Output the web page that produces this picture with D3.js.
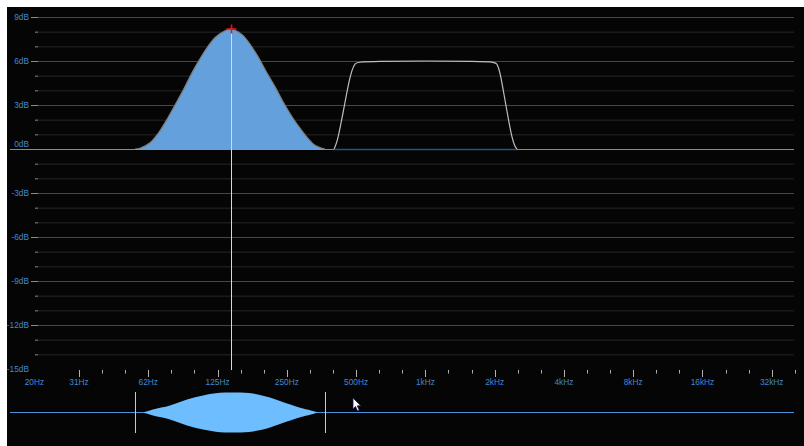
<!DOCTYPE html>
<html><head><meta charset="utf-8">
<script src="https://cdn.jsdelivr.net/npm/d3@7"></script>
<style>html,body{margin:0;padding:0;background:#fff;}svg{display:block}</style>
</head><body>
<svg id="c" width="804" height="446"></svg>
<script>
// ---- data ----
const freqLabels = ["20Hz","31Hz","62Hz","125Hz","250Hz","500Hz","1kHz","2kHz","4kHz","8kHz","16kHz","32kHz"];
const freqLabelValues = [20,31.25,62.5,125,250,500,1000,2000,4000,8000,16000,32000];
const dbLabels = ["9dB","6dB","3dB","0dB","-3dB","-6dB","-9dB","-12dB","-15dB"];
const dbLabelValues = [9,6,3,0,-3,-6,-9,-12,-15];

// peaking band (filled)
const bellFreq = [54.7,57.5,63.6,68.9,74.6,81.7,89.4,96.8,104.9,113.6,123.1,134.7,143.0,159.7,172.9,187.4,203.0,222.1,240.7,263.4,285.2,309.1,331.5,355.6,366.4];
const bellGain = [0,0.05,0.42,1.05,1.9,3.0,4.12,5.2,6.15,7.0,7.65,8.06,8.18,7.8,7.15,6.3,5.3,4.25,3.22,2.2,1.42,0.72,0.25,0.05,0];

// second band (outline only)
const bandFreq = [401.1,413.1,425.7,438.7,452.0,465.8,479.9,494.6,514.8,1988,2048,2111,2175,2241,2310,2380,2452,2502];
const bandGain = [0,0.45,1.4,2.45,3.55,4.6,5.4,5.85,6.0,6.0,5.85,5.25,4.1,2.95,1.8,0.75,0.15,0];

// lower overview panel envelope
const lensFreq = [59.3,65.5,77.7,92.1,108.1,128.1,151.9,178.3,211.3,250.5,294,324.9,341.6];
const lensAmp  = [0,0.15,0.35,0.65,0.85,0.985,1,0.95,0.75,0.45,0.2,0.075,0];

const peakFreq = 143.0, peakGain = 8.18;
const cursorFreq = 485;

// ---- drawing ----
const svg = d3.select("#c");
svg.append("rect").attr("x",7).attr("y",7).attr("width",797).attr("height",439).attr("fill","#050505");

const x = d3.scaleLog().base(2).domain([20,40000]).range([34.4,794]);
const y = d3.scaleLinear().domain([-15,9]).range([369,17]);
const font = "'Liberation Sans', Arial, sans-serif";
const labelColor = "#4189d0";
const smooth = d3.curveCatmullRom.alpha(0.5);

// horizontal grid (every dB)
const gridVals = d3.range(-14,10);
const g = svg.append("g");
gridVals.forEach(v=>{
  if (v===0) return;
  const major = v%3===0;
  g.append("line").attr("x1",38).attr("x2",794).attr("y1",y(v)+0.5).attr("y2",y(v)+0.5)
    .attr("stroke", major ? "#474747" : "#262626").attr("stroke-width",1);
  g.append("line").attr("x1", major?31:35).attr("x2",38).attr("y1",y(v)+0.5).attr("y2",y(v)+0.5)
    .attr("stroke","#8a8a8a").attr("stroke-width",1);
});

// y labels
svg.append("g").selectAll("text").data(dbLabelValues).join("text")
  .attr("x",29).attr("y",(d)=>y(d) + (d===0 ? -2 : 3))
  .attr("text-anchor","end").attr("font-family",font).attr("font-size",8.3)
  .attr("fill",labelColor).text((d,i)=>dbLabels[i]);

// x ticks (third-octave)
const thirdTicks = d3.range(0,32).map(k=>31.25*Math.pow(2,k/3));
svg.append("g").selectAll("line").data(thirdTicks.map((f,k)=>({f,k}))).join("line")
  .attr("x1",d=>Math.round(x(d.f))+0.5).attr("x2",d=>Math.round(x(d.f))+0.5)
  .attr("y1",370).attr("y2",d=>d.k%3===0?377:373.5)
  .attr("stroke","#b0b0b0").attr("stroke-width",1);

svg.append("g").selectAll("text").data(freqLabelValues).join("text")
  .attr("x",d=>x(d)).attr("y",385).attr("text-anchor","middle")
  .attr("font-family",font).attr("font-size",8.3).attr("fill",labelColor)
  .text((d,i)=>freqLabels[i]);

// 0 dB response baseline
svg.append("line").attr("x1",10).attr("x2",794).attr("y1",y(0)+0.5).attr("y2",y(0)+0.5)
  .attr("stroke","#8c8c8c").attr("stroke-width",1);

// bell filled band
const bellData = bellFreq.map((f,i)=>({f,g:bellGain[i]}));
svg.append("path").datum(bellData)
  .attr("d", d3.area().x(d=>x(d.f)).y0(y(0)+1).y1(d=>y(d.g)).curve(smooth))
  .attr("fill","#64a1dc");
svg.append("path").datum(bellData)
  .attr("d", d3.line().x(d=>x(d.f)).y(d=>y(d.g)).curve(smooth))
  .attr("fill","none").attr("stroke","#7c7c7c").attr("stroke-width",1.2);

// second band outline
const bandData = bandFreq.map((f,i)=>({f,g:bandGain[i]}));
svg.append("line").attr("x1",x(bandFreq[0])).attr("x2",x(bandFreq[bandFreq.length-1]))
  .attr("y1",y(0)+0.5).attr("y2",y(0)+0.5).attr("stroke","#2c5478").attr("stroke-width",1.5);
svg.append("path").datum(bandData)
  .attr("d", d3.line().x(d=>x(d.f)).y(d=>y(d.g)).curve(d3.curveBasis))
  .attr("fill","none").attr("stroke","#bfbfbf").attr("stroke-width",1.2);

// peak cursor line + marker
const px = Math.round(x(peakFreq))+0.5, py = y(peakGain);
svg.append("line").attr("x1",px).attr("x2",px).attr("y1",py).attr("y2",370)
  .attr("stroke","#d8d8d8").attr("stroke-width",1);
svg.append("path").attr("d",`M${px-5},${py}H${px+5}M${px},${py-4.5}V${py+4.5}`)
  .attr("stroke","#ee1111").attr("stroke-width",1.6).attr("fill","none");

// ---- lower overview panel ----
const cy = 412;
const lensH = d3.scaleLinear().domain([0,1]).range([0,20]);
svg.append("line").attr("x1",10).attr("x2",794).attr("y1",cy+0.5).attr("y2",cy+0.5)
  .attr("stroke","#4a92dc").attr("stroke-width",1);
const lensData = lensFreq.map((f,i)=>({f,a:lensAmp[i]}));
svg.append("path").datum(lensData)
  .attr("d", d3.area().x(d=>x(d.f)).y0(d=>cy+0.5+lensH(d.a)).y1(d=>cy+0.5-lensH(d.a)).curve(smooth))
  .attr("fill","#6dbdff");
[bellFreq[0], bellFreq[bellFreq.length-1]].forEach(f=>{
  const xx = Math.round(x(f))+0.5;
  svg.append("line").attr("x1",xx).attr("x2",xx).attr("y1",392).attr("y2",433)
    .attr("stroke","#c8c8c8").attr("stroke-width",1);
});

// mouse pointer
const mx = Math.round(x(cursorFreq)), my = 398;
svg.append("path")
  .attr("d",`M${mx},${my}l0,11l2.5,-2.5l2,4.5l1.8,-0.8l-2,-4.4l3.5,0z`)
  .attr("fill","#ffffff").attr("stroke","#1a1a60").attr("stroke-width",0.8);
</script>
</body></html>
